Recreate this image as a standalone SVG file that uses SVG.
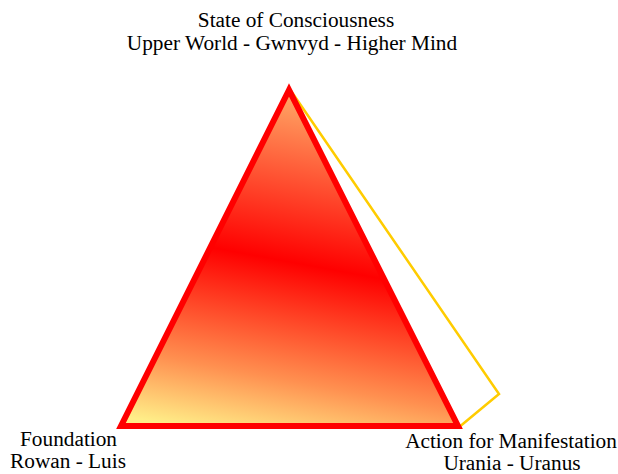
<svg xmlns="http://www.w3.org/2000/svg" width="618" height="474" viewBox="0 0 618 474">
<style>
.lbl{font-family:"Liberation Serif","Times New Roman",serif;font-size:21.3px;fill:#000;text-anchor:middle}
</style>
<defs>
<linearGradient id="g" gradientUnits="userSpaceOnUse" x1="323" y1="83" x2="257" y2="441">
<stop offset="0" stop-color="#ffb870"/>
<stop offset="0.5" stop-color="#ff0000"/>
<stop offset="0.82" stop-color="#ff9050"/>
<stop offset="1" stop-color="#ffee88"/>
</linearGradient>
</defs>
<g id="connectors">
<polyline points="289,88 499,394 458,428" fill="none" stroke="#ffcc00" stroke-width="2.5"/>
</g>
<g id="triangle">
<polygon points="289,90 121,426 458,426" fill="url(#g)" stroke="#ff0000" stroke-width="6" stroke-linejoin="miter"/>
</g>
<g id="top-label">
<text class="lbl" x="296" y="27">State of Consciousness</text>
<text class="lbl" x="292" y="50">Upper World - Gwnvyd - Higher Mind</text>
</g>
<g id="left-label">
<text class="lbl" x="68.5" y="446">Foundation</text>
<text class="lbl" x="68" y="468">Rowan - Luis</text>
</g>
<g id="right-label">
<text class="lbl" x="511" y="448">Action for Manifestation</text>
<text class="lbl" x="512" y="470">Urania - Uranus</text>
</g>
</svg>
